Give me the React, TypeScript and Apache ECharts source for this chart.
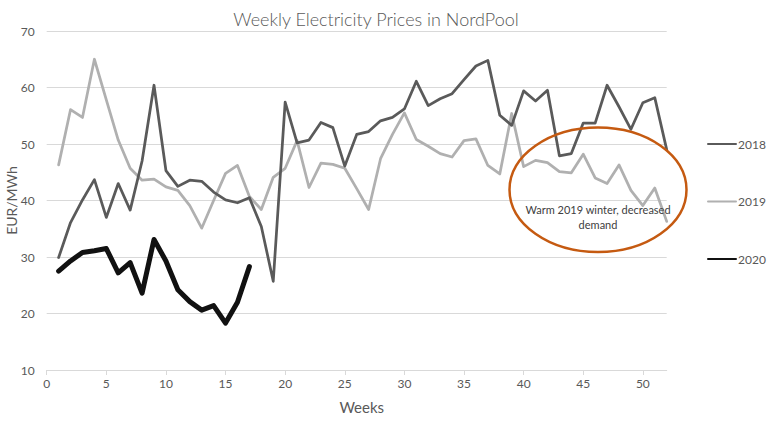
import React, { useEffect, useRef } from "react";
import * as echarts from "echarts";

const weeks2018 = [1,2,3,4,5,6,7,8,9,10,11,12,13,14,15,16,17,18,19,20,21,22,23,24,25,26,27,28,29,30,31,32,33,34,35,36,37,38,39,40,41,42,43,44,45,46,47,48,49,50,51,52];
const values2018 = [29.9,36.1,40.1,43.7,37.0,43.0,38.3,47.0,60.4,45.3,42.5,43.6,43.4,41.5,40.1,39.6,40.5,35.4,25.7,57.4,50.2,50.7,53.8,52.9,46.1,51.7,52.2,54.1,54.7,56.2,61.1,56.8,58.0,58.9,61.4,63.8,64.8,55.1,53.3,59.4,57.6,59.5,47.9,48.3,53.7,53.7,60.4,56.6,52.6,57.3,58.2,49.0];
const values2019 = [46.3,56.1,54.7,65.0,57.8,50.7,45.7,43.6,43.8,42.4,41.8,39.1,35.1,40.0,44.8,46.2,40.7,38.4,44.1,45.7,50.6,42.3,46.6,46.4,45.7,42.1,38.4,47.4,51.7,55.5,50.8,49.6,48.3,47.7,50.6,50.9,46.2,44.7,55.4,46.0,47.1,46.7,45.1,44.9,48.2,44.0,43.0,46.3,41.8,39.1,42.2,36.3];
const values2020 = [27.5,29.3,30.8,31.1,31.5,27.2,29.0,23.6,33.1,29.3,24.2,22.1,20.6,21.4,18.3,22.0,28.3];

const seriesNames = ["2018", "2019", "2020"];
const xTickValues = [0,5,10,15,20,25,30,35,40,45,50];

const title = "Weekly Electricity Prices in NordPool";
const xName = "Weeks";
const yName = "EUR/MWh";
const annotation = "Warm 2019 winter, decreased\ndemand";

const FONT = "Lato, 'Open Sans', sans-serif";

function pairs(vals: number[]) {
  return vals.map((v, i) => [weeks2018[i], v]);
}

export default function App() {
  const ref = useRef<HTMLDivElement>(null);
  useEffect(() => {
    if (!ref.current) return;
    const chart = echarts.init(ref.current, undefined, { renderer: "svg" });
    chart.setOption({
      animation: false,
      backgroundColor: "#ffffff",
      title: {
        text: title,
        left: 371,
        top: 5,
        textAlign: "center",
        textStyle: { fontFamily: FONT, fontSize: 18, fontWeight: 300, color: "#595959" },
      },
      grid: { left: 46.7, right: 107.3, top: 31, bottom: 51, containLabel: false, outerBoundsMode: "none" },
      legend: {
        orient: "vertical",
        left: 702,
        top: 133,
        itemWidth: 28,
        itemHeight: 14,
        itemGap: 45.5,
        data: seriesNames,
        itemStyle: { opacity: 0 },
        textStyle: { fontFamily: FONT, fontSize: 12, color: "#595959", padding: [0, 0, 0, -3] },
        selectedMode: false,
      },
      xAxis: {
        type: "value",
        min: 0,
        max: 52,
        interval: 5,
        name: xName,
        nameLocation: "middle",
        nameGap: 29,
        nameMoveOverlap: false,
        nameTextStyle: { fontFamily: FONT, fontSize: 15, color: "#595959", padding: [0, 0, 0, 10] },
        axisLine: { show: true, lineStyle: { color: "#d9d9d9", width: 1 } },
        axisTick: { show: true, length: 5, customValues: xTickValues, lineStyle: { color: "#d9d9d9" } },
        axisLabel: { customValues: xTickValues, fontFamily: FONT, fontSize: 12, color: "#595959", margin: 7 },
        splitLine: { show: false },
      },
      yAxis: {
        type: "value",
        min: 10,
        max: 70,
        interval: 10,
        name: yName,
        nameLocation: "middle",
        nameRotate: 90,
        nameGap: 28,
        nameMoveOverlap: false,
        nameTextStyle: { fontFamily: FONT, fontSize: 14, color: "#595959" },
        axisLine: { show: false },
        axisTick: { show: false },
        axisLabel: { fontFamily: FONT, fontSize: 12, color: "#595959", margin: 12 },
        splitLine: { show: true, lineStyle: { color: "#d9d9d9", width: 1 } },
      },
      series: [
        {
          name: seriesNames[0],
          type: "line",
          data: pairs(values2018),
          symbol: "none",
          color: "#5a5a5a",
          lineStyle: { width: 2.75, color: "#5a5a5a", join: "round", cap: "round" },
          z: 3,
        },
        {
          name: seriesNames[1],
          type: "line",
          data: pairs(values2019),
          symbol: "none",
          color: "#b0b0b0",
          lineStyle: { width: 2.75, color: "#b0b0b0", join: "round", cap: "round" },
          z: 2,
        },
        {
          name: seriesNames[2],
          type: "line",
          data: pairs(values2020),
          symbol: "none",
          color: "#111111",
          lineStyle: { width: 5, color: "#111111", join: "round", cap: "round" },
          z: 4,
        },
      ],
      graphic: [
        {
          type: "ellipse",
          shape: { cx: 598, cy: 189.7, rx: 88.5, ry: 62.3 },
          style: { fill: "none", stroke: "#c55a11", lineWidth: 2.5 },
          z: 10,
        },
        {
          type: "text",
          x: 598,
          y: 216.5,
          style: {
            text: annotation,
            fontFamily: FONT,
            fontSize: 11,
            lineHeight: 15,
            fill: "#404040",
            align: "center",
            verticalAlign: "middle",
          },
          z: 11,
        },
      ],
    });
    return () => chart.dispose();
  }, []);
  return (
    <div
      ref={ref}
      style={{ position: "fixed", left: 0, top: 0, width: 774, height: 421 }}
    />
  );
}
